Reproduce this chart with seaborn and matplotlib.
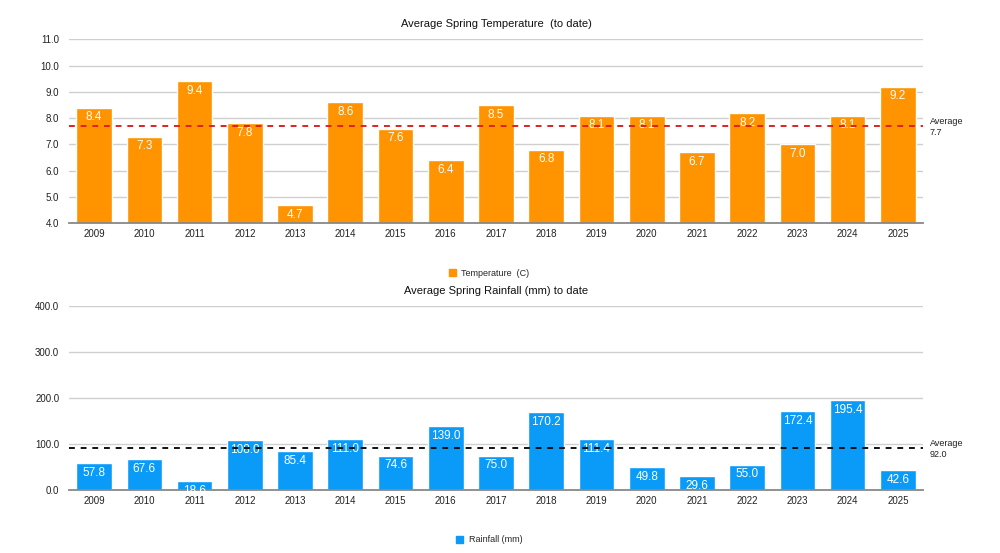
import matplotlib
matplotlib.use("Agg")
import matplotlib.pyplot as plt
import matplotlib.patches as mpatches
import seaborn as sns
import pandas as pd
import numpy as np

years = ["2009", "2010", "2011", "2012", "2013", "2014", "2015", "2016", "2017",
         "2018", "2019", "2020", "2021", "2022", "2023", "2024", "2025"]
temperature = [8.4, 7.3, 9.4, 7.8, 4.7, 8.6, 7.6, 6.4, 8.5, 6.8, 8.1, 8.1, 6.7, 8.2, 7.0, 8.1, 9.2]
rainfall = [57.8, 67.6, 18.6, 108.0, 85.4, 111.0, 74.6, 139.0, 75.0, 170.2, 111.4, 49.8, 29.6, 55.0, 172.4, 195.4, 42.6]
temp_avg = 7.7
rain_avg = 92.0
temp_ticks = [4.0, 5.0, 6.0, 7.0, 8.0, 9.0, 10.0, 11.0]
rain_ticks = [0.0, 100.0, 200.0, 300.0, 400.0]

ORANGE = "#FF9300"
BLUE = "#0A9BF8"

sns.set_theme(style="white")
plt.rcParams['font.family'] = ['Liberation Sans', 'DejaVu Sans']

fig = plt.figure(figsize=(10, 5.53), dpi=100)

def panel(ax, values, color, ticks, avg, avg_color, title, label_offset):
    df = pd.DataFrame({"year": years, "value": values})
    sns.barplot(data=df, x="year", y="value", color=color, width=0.71,
                saturation=1, ax=ax, zorder=3)
    ax.set_xlim(-0.5, len(years) - 0.5)
    ax.set_ylim(ticks[0], ticks[-1])
    ax.set_yticks(ticks)
    ax.set_yticklabels([f"{t:.1f}" for t in ticks], fontsize=7, color="#222222")
    ax.tick_params(axis="x", labelsize=7, colors="#222222", length=0, pad=4)
    ax.tick_params(axis="y", length=0, pad=7)
    ax.set_xlabel("")
    ax.set_ylabel("")
    for t in ticks[1:]:
        ax.axhline(t, color="#cfcfcf", lw=1, zorder=1)
    for s in ["top", "right", "left"]:
        ax.spines[s].set_visible(False)
    ax.spines["bottom"].set_color("#888888")
    ax.spines["bottom"].set_linewidth(1.3)
    ax.spines["bottom"].set_zorder(4)
    for i, v in enumerate(values):
        ax.annotate(f"{v:.1f}", (i, v), xytext=(0, -label_offset), textcoords="offset points",
                    ha="center", va="center", color="white", fontsize=8.5, zorder=5)
    ax.axhline(avg, color=avg_color, lw=1.4, ls=(0, (3, 3)), zorder=6)
    ax.annotate(f"Average\n{avg:.1f}", (1.0, avg), xycoords=("axes fraction", "data"),
                xytext=(5, -1), textcoords="offset points", ha="left", va="center",
                fontsize=6.5, color="#222222", linespacing=1.3)
    ax.set_title(title, fontsize=8, color="#111111", pad=9)

ax1 = fig.add_axes([0.069, 0.5962, 0.854, 0.3327])
panel(ax1, temperature, ORANGE, temp_ticks, temp_avg, "#E02020",
      "Average Spring Temperature  (to date)", 7)

ax2 = fig.add_axes([0.069, 0.1139, 0.854, 0.3322])
panel(ax2, rainfall, BLUE, rain_ticks, rain_avg, "#111111",
      "Average Spring Rainfall (mm) to date", 7)

h1 = mpatches.Patch(color=ORANGE, label="Temperature  (C)")
fig.legend(handles=[h1], loc="center", bbox_to_anchor=(0.489, 1 - 273 / 553),
           frameon=False, fontsize=6.5, handlelength=0.8, handleheight=0.8, handletextpad=0.6)
h2 = mpatches.Patch(color=BLUE, label="Rainfall (mm)")
fig.legend(handles=[h2], loc="center", bbox_to_anchor=(0.489, 1 - 540 / 553),
           frameon=False, fontsize=6.5, handlelength=0.8, handleheight=0.8, handletextpad=0.6)

fig.savefig("out.png", dpi=100, facecolor="white")
